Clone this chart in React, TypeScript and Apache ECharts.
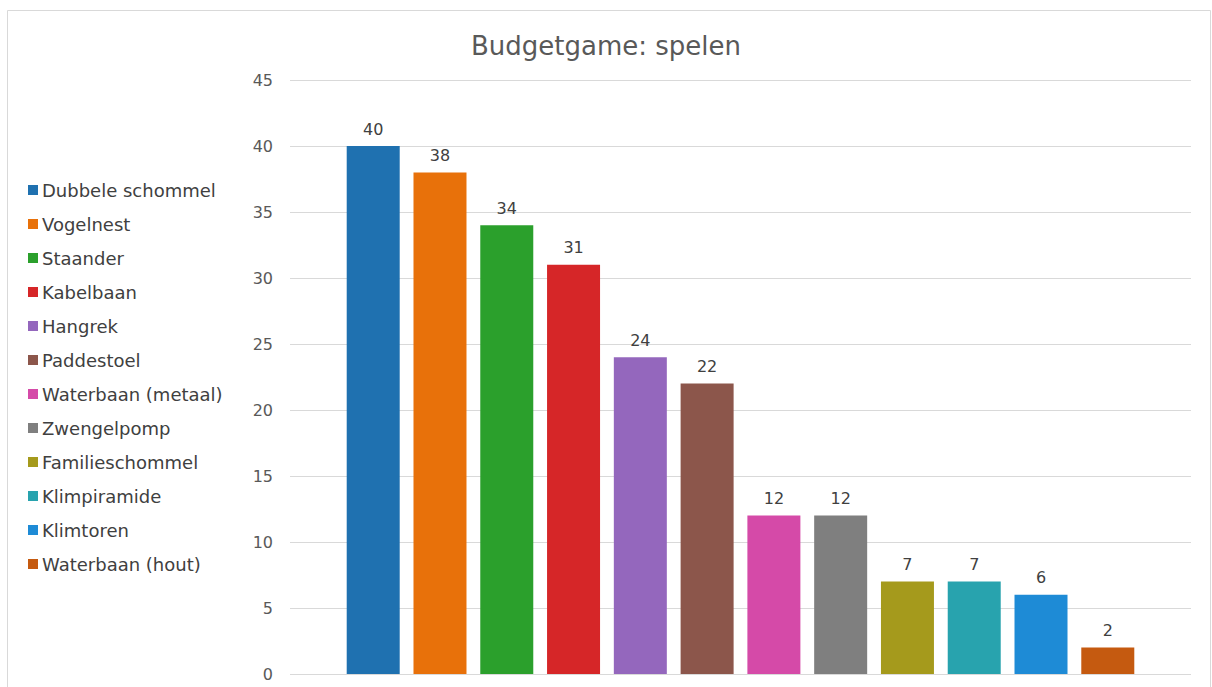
import React, { useEffect, useRef } from "react";
import * as echarts from "echarts";

const titleText = "Budgetgame: spelen";
const names = [
  "Dubbele schommel",
  "Vogelnest",
  "Staander",
  "Kabelbaan",
  "Hangrek",
  "Paddestoel",
  "Waterbaan (metaal)",
  "Zwengelpomp",
  "Familieschommel",
  "Klimpiramide",
  "Klimtoren",
  "Waterbaan (hout)",
];
const values = [40, 38, 34, 31, 24, 22, 12, 12, 7, 7, 6, 2];
const colors = [
  "#1f71b0",
  "#e8710a",
  "#2ba02c",
  "#d62628",
  "#9467bd",
  "#8c564b",
  "#d54aa8",
  "#7f7f7f",
  "#a59a1c",
  "#28a3ae",
  "#1e8bd6",
  "#c55a10",
];
const yMin = 0;
const yMax = 45;
const yStep = 5;

const FONT = "'DejaVu Sans', Verdana, sans-serif";

export default function App() {
  const ref = useRef<HTMLDivElement>(null);
  useEffect(() => {
    document.body.style.margin = "0";
    const chart = echarts.init(ref.current!, null, { renderer: "svg" });
    chart.setOption({
      animation: false,
      backgroundColor: "#ffffff",
      textStyle: { fontFamily: FONT },
      title: {
        text: titleText,
        left: "center",
        top: 28,
        textStyle: { fontFamily: FONT, fontSize: 26, fontWeight: "normal", color: "#595959" },
      },
      graphic: [
        {
          type: "rect",
          shape: { x: 7.5, y: 10.5, width: 1203, height: 700 },
          style: { fill: "none", stroke: "#d9d9d9", lineWidth: 1 },
          silent: true,
        },
      ],
      legend: {
        orient: "vertical",
        left: 23,
        top: 175,
        icon: "rect",
        itemWidth: 10,
        itemHeight: 10,
        itemGap: 14,
        data: names,
        textStyle: { fontFamily: FONT, fontSize: 18, color: "#404040", lineHeight: 20, padding: [0, 0, 0, -1] },
      },
      grid: { left: 290, right: 21, top: 80, bottom: 13, containLabel: false },
      xAxis: {
        type: "category",
        data: [""],
        axisLine: { show: false },
        axisTick: { show: false },
        axisLabel: { show: false },
      },
      yAxis: {
        type: "value",
        min: yMin,
        max: yMax,
        interval: yStep,
        axisLine: { show: false },
        axisTick: { show: false },
        axisLabel: { color: "#595959", fontSize: 16, fontFamily: FONT, margin: 17 },
        splitLine: { lineStyle: { color: "#d9d9d9", width: 1 } },
      },
      series: names.map((n, i) => ({
        type: "bar",
        name: n,
        data: [values[i]],
        barWidth: 53,
        barGap: "26%",
        itemStyle: { color: colors[i] },
        label: {
          show: true,
          position: "top",
          distance: 9,
          color: "#404040",
          fontSize: 16,
          fontFamily: FONT,
        },
      })),
    });
    return () => chart.dispose();
  }, []);
  return <div ref={ref} style={{ width: 1212, height: 687 }} />;
}
